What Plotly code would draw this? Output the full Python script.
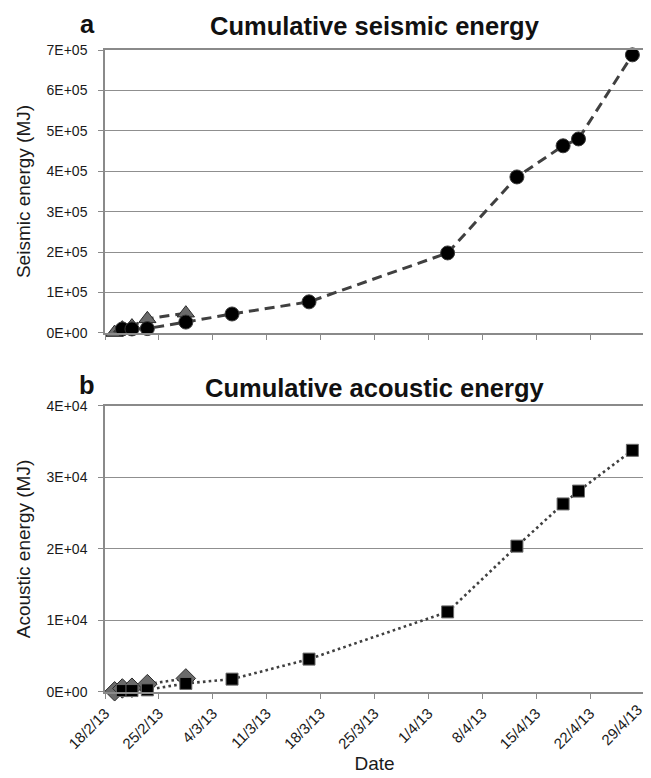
import plotly.graph_objects as go

# ---- data ----
early_dates = ["2013-02-19 06:00", "2013-02-20 06:00", "2013-02-21 12:00",
               "2013-02-23 12:00", "2013-02-28 12:00"]
main_dates = ["2013-02-20 06:00", "2013-02-21 12:00", "2013-02-23 12:00",
              "2013-02-28 12:00", "2013-03-06 12:00", "2013-03-16 12:00",
              "2013-04-03 12:00", "2013-04-12 12:00", "2013-04-18 12:00",
              "2013-04-20 12:00", "2013-04-27 12:00"]

seismic_early = [1000, 12000, 17000, 35000, 49000]
seismic_main = [10000, 10000, 11000, 27000, 47000, 77000, 198000, 386000,
                463000, 480000, 688000]

acoustic_early = [100, 500, 600, 1100, 1900]
acoustic_main = [200, 200, 300, 1200, 1800, 4600, 11200, 20400, 26300,
                 28100, 33800]

x_tickvals = ["2013-02-18", "2013-02-25", "2013-03-04", "2013-03-11",
              "2013-03-18", "2013-03-25", "2013-04-01", "2013-04-08",
              "2013-04-15", "2013-04-22", "2013-04-29"]
x_ticklabels = ["18/2/13", "25/2/13", "4/3/13", "11/3/13", "18/3/13",
                "25/3/13", "1/4/13", "8/4/13", "15/4/13", "22/4/13", "29/4/13"]

seis_tickvals = [0, 100000, 200000, 300000, 400000, 500000, 600000, 700000]
seis_ticklabels = ["0E+00", "1E+05", "2E+05", "3E+05", "4E+05", "5E+05",
                   "6E+05", "7E+05"]
acou_tickvals = [0, 10000, 20000, 30000, 40000]
acou_ticklabels = ["0E+00", "1E+04", "2E+04", "3E+04", "4E+04"]

# ---- styling ----
FONT = "Liberation Sans, Arial, sans-serif"
LINE_C = "#404040"
GRID_C = "#8f8f8f"
AX_C = "#8a8a8a"
TXT_C = "#1a1a1a"

fig = go.Figure()

# panel a
fig.add_trace(go.Scatter(
    x=early_dates, y=seismic_early, mode="lines+markers", xaxis="x", yaxis="y",
    line=dict(color=LINE_C, width=3, dash="10px,6px"),
    marker=dict(symbol="triangle-up", size=15, color="#6b6b6b",
                line=dict(color="#2a2a2a", width=1)),
    cliponaxis=False, showlegend=False))
fig.add_trace(go.Scatter(
    x=main_dates, y=seismic_main, mode="lines+markers", xaxis="x", yaxis="y",
    line=dict(color=LINE_C, width=3, dash="10px,6px"),
    marker=dict(symbol="circle", size=14, color="#000000",
                line=dict(color="#3a3a3a", width=1)),
    cliponaxis=False, showlegend=False))

# panel b
fig.add_trace(go.Scatter(
    x=early_dates, y=acoustic_early, mode="lines+markers", xaxis="x2", yaxis="y2",
    line=dict(color=LINE_C, width=2.6, dash="2.6px,3.2px"),
    marker=dict(symbol="diamond", size=15, color="#6b6b6b",
                line=dict(color="#2a2a2a", width=1)),
    cliponaxis=False, showlegend=False))
fig.add_trace(go.Scatter(
    x=main_dates, y=acoustic_main, mode="lines+markers", xaxis="x2", yaxis="y2",
    line=dict(color=LINE_C, width=2.6, dash="2.6px,3.2px"),
    marker=dict(symbol="square", size=12, color="#000000",
                line=dict(color="#6a6a6a", width=1)),
    cliponaxis=False, showlegend=False))

xcommon = dict(
    type="date", range=["2013-02-18", "2013-04-29 00:10"],
    tickmode="array", tickvals=x_tickvals,
    showgrid=False, zeroline=False,
    showline=True, linecolor=AX_C, linewidth=1.5, mirror=True,
    ticks="outside", ticklen=5, tickcolor=AX_C, tickwidth=1.3,
)
ycommon = dict(
    tickmode="array", showgrid=True, gridcolor=GRID_C, gridwidth=1.3,
    zeroline=False, showline=True, linecolor=AX_C, linewidth=1.5, mirror=True,
    ticks="outside", ticklen=5, tickcolor=AX_C, tickwidth=1.3,
    ticklabelstandoff=8,
    tickfont=dict(family=FONT, size=14, color=TXT_C),
)

# page body has an 8px margin: figure is sized to end exactly at the window edge
fig.update_layout(
    width=643, height=770,
    margin=dict(l=97, r=5, t=42, b=86),
    paper_bgcolor="white", plot_bgcolor="white",
    font=dict(family=FONT, color=TXT_C),
    xaxis=dict(**xcommon, anchor="y", showticklabels=False),
    yaxis=dict(**ycommon, domain=[0.5592, 1.0], anchor="x",
               range=[0, 700000], tickvals=seis_tickvals, ticktext=seis_ticklabels,
               title=dict(text="Seismic energy (MJ)", standoff=11,
                          font=dict(family=FONT, size=19, color=TXT_C))),
    xaxis2=dict(**xcommon, anchor="y2", ticktext=x_ticklabels, tickangle=-45,
                tickfont=dict(family=FONT, size=15, color=TXT_C),
                title=dict(text="Date", standoff=6,
                           font=dict(family=FONT, size=19, color=TXT_C))),
    yaxis2=dict(**ycommon, domain=[0.0, 0.4455], anchor="x2",
                range=[0, 40000], tickvals=acou_tickvals, ticktext=acou_ticklabels,
                title=dict(text="Acoustic energy (MJ)", standoff=11,
                           font=dict(family=FONT, size=19, color=TXT_C))),
)

title_font = dict(family=FONT, size=25.5, color="#111111")
fig.add_annotation(text="<b>Cumulative seismic energy</b>", xref="paper", yref="paper",
                   x=0.5, y=1.037, xanchor="center", yanchor="middle",
                   showarrow=False, font=title_font)
fig.add_annotation(text="<b>a</b>", xref="paper", yref="paper",
                   x=-0.033, y=1.040, xanchor="center", yanchor="middle",
                   showarrow=False, font=title_font)
fig.add_annotation(text="<b>Cumulative acoustic energy</b>", xref="paper", yref="paper",
                   x=0.5, y=0.4735, xanchor="center", yanchor="middle",
                   showarrow=False, font=title_font)
fig.add_annotation(text="<b>b</b>", xref="paper", yref="paper",
                   x=-0.033, y=0.478, xanchor="center", yanchor="middle",
                   showarrow=False, font=title_font)

# the last tick label sits at the very edge of the figure; plotly hides it,
# so draw it as rotated text kept inside the figure
fig.add_annotation(text=x_ticklabels[-1], xref="x2", yref="paper",
                   x=x_tickvals[-1], y=-0.0514, xshift=-22,
                   xanchor="center", yanchor="middle", textangle=-45,
                   showarrow=False, font=dict(family=FONT, size=15, color=TXT_C))

fig.write_html("out.html")
